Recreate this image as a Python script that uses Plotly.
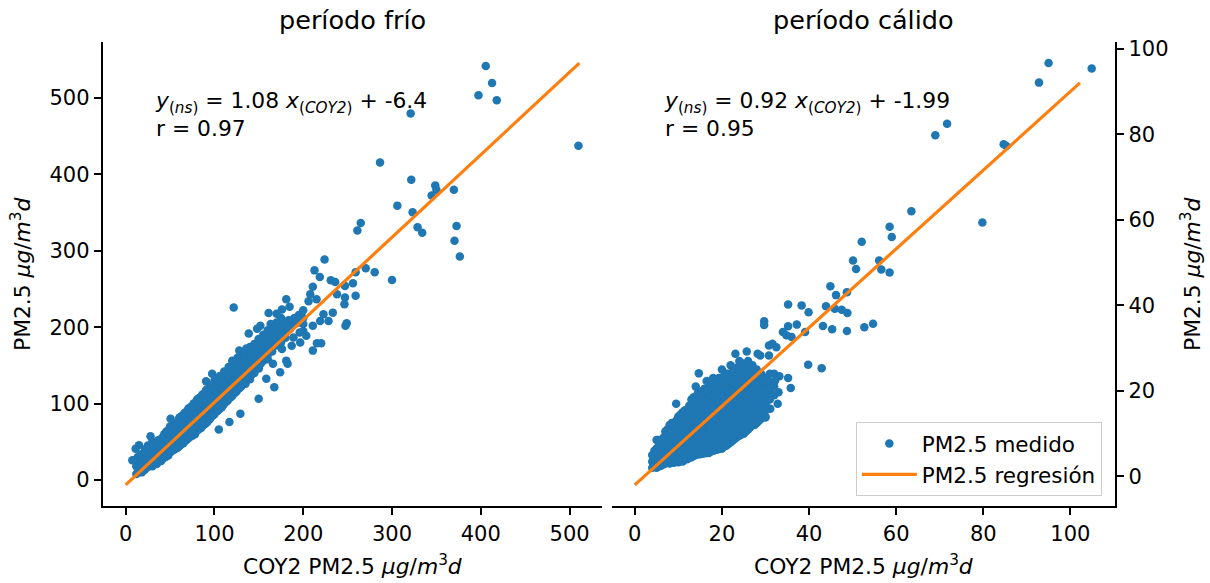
import plotly.graph_objects as go

FONT = "DejaVu Sans"
BLUE = "#1f77b4"
ORANGE = "#ff7f0e"

# ---------------- data: período frío ----------------
cold_outliers = [
    (405.6, 541.7), (412.7, 519.5), (397.4, 503.5), (418, 497), (321, 479.6),
    (510, 437.5), (286.5, 415.4), (321.7, 392.8), (348.7, 385.4), (350, 379.8),
    (344.6, 372.4), (369.7, 379.8), (306, 359), (323.2, 350.3), (328.8, 330.7),
    (334, 323.4), (372.7, 332.5), (370.4, 313), (376.4, 292.5), (264.8, 336.4),
    (261, 326.4), (224, 288.6), (270.4, 277), (280.5, 272), (259, 272),
    (300, 261.7), (212.7, 274.3), (218.7, 265.6), (231, 261.3), (236, 259),
    (210.8, 253), (247, 254), (256, 257.4), (238, 243), (207.9, 243),
    (259, 241), (247, 238.7), (215, 236.5), (206, 234), (246.4, 230),
    (180.9, 236.5), (184.6, 226.6), (121.7, 225.7), (176, 223), (161, 218.5),
    (170, 217.6), (233.3, 219), (222.8, 217), (228.5, 208), (249, 205),
    (247.6, 202), (219, 208), (210.8, 201.8), (189.9, 210.5), (183.5, 209),
    (163.3, 204), (172, 204), (151.7, 201.8), (148, 198), (138.6, 191.8),
    (185, 197.5), (200, 195), (196, 193), (168.5, 189.7), (174, 188.8),
    (189, 186.6), (149.8, 184.5), (155.4, 178), (146, 175.8), (163, 175.8),
    (187, 175.8), (196.6, 180), (203.4, 188.8), (215.4, 179), (220.2, 179),
    (210.8, 169.3), (176, 171.5), (128, 169.3), (133, 164), (165.9, 152),
    (180.9, 156.2), (182.4, 152), (174, 141), (158.4, 132.4), (167.4, 121.5),
    (149.8, 106.3), (129.2, 86.8), (116.9, 76), (104.9, 66), (97.4, 139),
    (90.6, 129.3), (28, 57.3), (50.6, 80.3), (9.4, 26), (15, 45.6),
    (11.2, 41), (7.5, 26),
]
cold_cluster = [
    (12, [18, 24, 8]), (15, [12, 20, 28, 15]), (18, [14, 22, 30, 10]),
    (20, [18, 26, 35, 12]), (22, [20, 14, 30, 40]), (25, [17, 24, 32, 22, 45]),
    (28, [20, 28, 36, 25]), (30, [24, 32, 40, 18, 50]), (33, [27, 35, 44, 22]),
    (35, [30, 38, 28, 48, 21]), (38, [32, 40, 26, 50, 36]), (40, [36, 44, 30, 54, 25]),
    (42, [38, 46, 34, 56, 28]), (45, [40, 48, 35, 58, 30, 62]), (48, [44, 52, 38, 60, 32]),
    (50, [46, 54, 40, 64, 36, 70]), (52, [48, 56, 42, 66, 38]), (55, [50, 60, 45, 70, 40, 56]),
    (58, [54, 62, 47, 72, 42]), (60, [56, 64, 50, 75, 44, 80]), (62, [58, 66, 52, 77, 46]),
    (65, [62, 70, 55, 80, 48, 68]), (68, [64, 72, 58, 84, 52]), (70, [66, 76, 60, 86, 54, 92]),
    (72, [70, 78, 62, 88, 56]), (75, [72, 80, 65, 92, 58, 85]), (78, [76, 84, 68, 96, 60]),
    (80, [78, 88, 70, 98, 64, 104]), (82, [80, 90, 72, 100, 66]), (85, [84, 92, 75, 104, 68, 96]),
    (88, [86, 96, 78, 108, 72]), (90, [90, 98, 82, 110, 74, 116]), (92, [92, 100, 84, 112, 76]),
    (95, [96, 104, 88, 116, 80, 108]), (98, [98, 108, 90, 120, 84]),
    (100, [102, 110, 94, 124, 86, 130]), (103, [104, 114, 96, 126, 90]),
    (105, [108, 116, 100, 130, 92]), (108, [110, 120, 102, 132, 95]),
    (110, [114, 122, 106, 136, 98, 128]), (113, [116, 126, 108, 140, 102]),
    (115, [120, 128, 112, 142, 104]), (118, [122, 132, 114, 146, 108]),
    (120, [126, 134, 118, 148, 110, 156]), (123, [128, 138, 120, 150, 114]),
    (125, [132, 140, 122, 154, 116]), (128, [134, 144, 126, 158, 120]),
    (130, [138, 146, 128, 160, 122]), (133, [140, 150, 132, 164]),
    (135, [144, 152, 134, 166, 126]), (138, [146, 156, 138, 170]),
    (140, [150, 158, 140, 174, 132]), (145, [154, 164, 146, 178, 140]),
    (150, [160, 170, 150, 184, 146]), (155, [166, 174, 156, 190]),
    (160, [172, 180, 164, 196, 158]), (165, [176, 186, 168, 200]),
    (170, [182, 192, 176, 206]), (175, [186, 196, 180, 212]),
    (180, [194, 204, 186]), (185, [198, 208]), (190, [204, 212]),
    (195, [206, 216]), (200, [212, 222, 204]),
    (13.5, [16, 22, 30]), (16.5, [18, 25, 33]), (19, [20, 28]), (23.5, [22, 30, 38]),
    (26.5, [26, 34, 41]), (31.5, [29, 37, 45]), (36.5, [34, 42, 52]), (41, [40, 50, 32]),
    (43.5, [42, 52, 60]), (46.5, [46, 55, 64]), (51, [50, 60, 68]), (53.5, [52, 62, 72]),
    (56.5, [54, 64, 74, 44]), (61, [60, 70, 82]), (63.5, [62, 72, 84]),
    (66.5, [66, 76, 88, 52]), (71, [70, 82, 94]), (73.5, [74, 86, 96, 60]),
    (76.5, [78, 90, 100, 62]), (81, [82, 94, 106]), (83.5, [86, 98, 108, 70]),
    (86.5, [88, 100, 112, 74]), (91, [94, 104, 118]), (93.5, [96, 108, 120, 80]),
    (96.5, [100, 112, 124, 84]), (101, [106, 118, 132]), (106, [110, 122, 136, 96]),
    (111, [118, 130, 142]), (116, [122, 134, 148, 108]), (121, [130, 142, 154]),
    (126, [136, 148, 160]), (131, [142, 154, 166, 126]), (136, [148, 160, 172]),
    (142, [152, 162, 170, 138]), (147, [158, 168, 176]), (152, [162, 172, 182, 152]),
    (157, [170, 178, 186]), (162, [176, 184, 192]), (167, [180, 190, 198]),
    (172, [186, 196, 204]), (177, [190, 200]),
]

# ---------------- data: período cálido ----------------
warm_outliers = [
    (95, 96.7), (104.9, 95.4), (92.8, 92.1), (71.7, 82.5), (69, 79.8),
    (84.7, 77.7), (85.3, 77.3), (63.5, 62), (79.8, 59.4), (58.5, 58.4),
    (59, 56), (52.1, 54.9), (50.1, 50.5), (56.1, 50.5), (50.8, 48.5),
    (56.6, 48.4), (58.5, 47.7), (44.9, 44.5), (46.2, 42.4), (48.7, 43.1),
    (35.2, 40.2), (38.3, 40), (43.9, 39.8), (39.9, 38.4), (45.9, 39.2),
    (47.5, 39), (48.8, 38.2), (29.7, 36.3), (29.7, 35.4), (35.2, 35.1),
    (37.2, 35.5), (43.2, 35.2), (45.3, 34.4), (52.7, 34.9), (54.7, 35.7),
    (48.7, 34), (34, 33.75), (39.1, 33.75), (34.8, 33), (36, 32.6),
    (39.8, 26.1), (42.9, 25.3), (30.8, 30.6), (31.6, 31), (32.5, 30.2),
    (28.8, 28.3), (30.8, 28.3), (25.7, 29.2), (23.1, 28.7), (28.2, 28.7),
    (35.2, 23), (35.8, 20.7), (33.2, 23.4), (33, 19.7), (32.2, 22.4),
    (32.8, 17), (30, 13.8), (31.1, 15.8), (29.8, 16.2), (14.7, 24.1),
    (9.5, 17), (10.9, 3.7), (5.3, 8.5), (16.5, 22.3), (19.3, 23),
    (11, 4.5), (12, 5), (13, 5.5), (14, 6), (15, 6.3), (16, 6.7), (17, 7),
    (18, 7.5), (19, 7.8), (20, 8), (21, 8.6), (22, 9.5), (23, 10), (24, 10.7),
    (25, 11.2), (26, 12), (27, 13), (28, 13.8), (14.5, 6.3), (15.5, 6.6),
    (16.5, 7), (17.5, 7.2), (18.5, 7.8), (19.5, 8.2), (20.5, 8.7), (21.5, 9),
    (22.5, 9.9), (23.5, 10.5), (24.5, 11), (25.5, 11.8), (26.5, 12.6),
    (27.5, 13.3), (29, 14.8), (30, 15.5),
]
warm_cluster = [
    (4, [2, 3.5, 5]), (5, [2, 3.5, 5, 6.5, 8.5]), (6, [2.5, 4, 5.5, 7, 8.5]),
    (7, [3, 4.5, 6, 7.5, 9, 10.5]), (8, [3, 4.5, 6, 7.5, 9, 10.5, 12]),
    (9, [3.2, 5, 6.5, 8, 9.5, 11, 12.5]), (10, [3.3, 5, 6.5, 8, 9.5, 11, 12.5, 14]),
    (11, [3.5, 5.5, 7, 8.5, 10, 11.5, 13, 15]), (12, [4, 6, 7.5, 9, 10.5, 12, 13.5, 15]),
    (13, [4.5, 6.5, 8, 9.5, 11, 12.5, 14, 16, 18]),
    (14, [5, 7, 8.5, 10, 11.5, 13, 14.5, 16, 18, 21]),
    (15, [5.2, 7.5, 9, 10.5, 12, 13.5, 15, 17, 19]),
    (16, [5.4, 8, 9.5, 11, 12.5, 14, 15.5, 17, 19, 20.5]),
    (17, [5.5, 8, 10, 11.5, 13, 14.5, 16, 18, 20, 22]),
    (18, [6, 9, 10.5, 12, 13.5, 15, 17, 18.5, 20, 23]),
    (19, [6.3, 9, 11, 12.5, 14, 16, 17.5, 19, 21]),
    (20, [6.5, 9.5, 11.5, 13, 14.5, 16, 18, 19.5, 21, 23, 25]),
    (21, [7.2, 10, 12, 13.5, 15, 17, 18.5, 20, 22, 24]),
    (22, [8, 11, 12.5, 14, 16, 17.5, 19, 21, 23, 26]),
    (23, [8.8, 11, 13, 15, 16.5, 18, 20, 22, 24]),
    (24, [9.5, 12, 13.5, 15.5, 17, 19, 21, 23, 25, 27]),
    (25, [10, 12.5, 14, 16, 18, 20, 22, 24, 26]),
    (26, [11, 13, 15, 17, 19, 21, 23, 25, 27]),
    (27, [12, 14, 16, 18, 20, 22, 24, 26]),
    (28, [12.5, 15, 17, 19, 21, 23, 25]),
    (29, [13.5, 16, 18, 20, 22, 24]),
    (30, [14, 17, 19, 21, 23]),
    (31, [18, 20, 22, 24]),
    (32, [19, 21, 24]),
    (4.5, [2.8, 4.3, 6]), (5.5, [2.3, 3.8, 5.3, 7, 8]), (6.5, [2.8, 4.3, 5.8, 7.3, 9]),
    (7.5, [3.2, 4.8, 6.3, 7.8, 9.5, 11]), (8.5, [3.3, 4.8, 6.3, 7.8, 9.3, 10.8, 12.5]),
    (9.5, [3.5, 5.5, 7, 8.5, 10, 11.5, 13]), (10.5, [3.6, 5.5, 7, 8.5, 10, 11.5, 13, 14.5]),
    (11.5, [4, 6, 7.5, 9, 10.5, 12, 13.5, 15.5]), (12.5, [4.3, 6.5, 8, 9.5, 11, 12.5, 14, 16.5]),
    (13.5, [4.8, 7, 8.5, 10, 11.5, 13, 14.5, 16.5, 18.5]),
    (14.5, [5.2, 7.5, 9, 10.5, 12, 13.5, 15, 17, 19.5]),
    (15.5, [5.3, 8, 9.5, 11, 12.5, 14, 15.5, 17.5, 20]),
    (16.5, [5.5, 8.5, 10, 11.5, 13, 14.5, 16, 18, 20]),
    (17.5, [5.8, 8.5, 10.5, 12, 13.5, 15, 17, 19, 21.5]),
    (18.5, [6.2, 9.5, 11, 12.5, 14, 16, 17.5, 19.5, 22]),
    (19.5, [6.5, 10, 11.5, 13, 15, 17, 18.5, 20.5, 22.5]),
    (20.5, [7, 10.5, 12, 13.5, 15.5, 17.5, 19, 21, 23.5]),
    (21.5, [7.6, 10.5, 12.5, 14, 16, 18, 19.5, 21.5, 24]),
    (22.5, [8.4, 11.5, 13, 15, 17, 18.5, 20, 22, 24.5]),
    (23.5, [9.2, 12, 14, 16, 17.5, 19.5, 21.5, 23.5, 25.5]),
    (24.5, [9.8, 12.5, 14.5, 16.5, 18.5, 20.5, 22.5, 24.5, 26.5]),
    (25.5, [10.5, 13, 15, 17, 19, 21, 23, 25]),
    (26.5, [11.5, 14, 16, 18, 20, 22, 24, 26]),
    (27.5, [12, 14.5, 16.5, 18.5, 20.5, 22.5, 24.5]),
    (28.5, [13, 15.5, 17.5, 19.5, 21.5, 23.5]),
    (29.5, [14, 16.5, 18.5, 20.5, 22.5]),
    (30.5, [16, 18.5, 20.5, 22.5]),
]

# regression coefficients and line extents
cold_slope, cold_intercept, cold_line_x = 1.08, -6.4, [0, 511]
warm_slope, warm_intercept, warm_line_x = 0.92, -1.99, [0, 102.2]

titles = ["período frío", "período cálido"]
cold_text = "<i>y</i><sub>(<i>ns</i>)</sub> = 1.08 <i>x</i><sub>(<i>COY2</i>)</sub> + -6.4<br>r = 0.97"
warm_text = "<i>y</i><sub>(<i>ns</i>)</sub> = 0.92 <i>x</i><sub>(<i>COY2</i>)</sub> + -1.99<br>r = 0.95"
xlabel = "COY2 PM2.5 <i>μg</i>/<i>m</i><sup>3</sup><i>d</i>"
ylabel = "PM2.5 <i>μg</i>/<i>m</i><sup>3</sup><i>d</i>"


def flatten(outliers, cluster):
    xs, ys = [], []
    for x, col in cluster:
        for y in col:
            xs.append(x)
            ys.append(y)
    for x, y in outliers:
        xs.append(x)
        ys.append(y)
    return xs, ys


cold_x, cold_y = flatten(cold_outliers, cold_cluster)
warm_x, warm_y = flatten(warm_outliers, warm_cluster)
cold_line_y = [cold_slope * v + cold_intercept for v in cold_line_x]
warm_line_y = [warm_slope * v + warm_intercept for v in warm_line_x]

fig = go.Figure()
mk = dict(color=BLUE, size=8.5, line=dict(width=0))
fig.add_trace(go.Scatter(x=cold_x, y=cold_y, mode="markers", marker=mk,
                         showlegend=False, xaxis="x", yaxis="y"))
fig.add_trace(go.Scatter(x=cold_line_x, y=cold_line_y, mode="lines",
                         line=dict(color=ORANGE, width=3.2), showlegend=False,
                         xaxis="x", yaxis="y"))
fig.add_trace(go.Scatter(x=warm_x, y=warm_y, mode="markers", marker=mk,
                         name="PM2.5 medido", xaxis="x2", yaxis="y2"))
fig.add_trace(go.Scatter(x=warm_line_x, y=warm_line_y, mode="lines",
                         line=dict(color=ORANGE, width=3.2), name="PM2.5 regresión",
                         xaxis="x2", yaxis="y2"))

ax = dict(showline=True, linecolor="black", linewidth=1.6, ticks="outside",
          ticklen=7.5, tickwidth=1.6, tickcolor="black", showgrid=False,
          zeroline=False, tickfont=dict(family=FONT, size=21, color="black"))

fig.update_layout(
    width=1210, height=583, autosize=False,
    margin=dict(l=103, r=95, t=42, b=77),
    paper_bgcolor="white", plot_bgcolor="white",
    font=dict(family=FONT, size=22, color="black"),
    xaxis=dict(domain=[0, 0.4931], range=[-25.55, 536.55], tickvals=[0, 100, 200, 300, 400, 500], anchor="y", **ax),
    yaxis=dict(domain=[0, 1], range=[-34.0, 573.1], tickvals=[0, 100, 200, 300, 400, 500], anchor="x", **ax),
    xaxis2=dict(domain=[0.5029, 1], range=[-5.25, 110.25], tickvals=[0, 20, 40, 60, 80, 100], anchor="y2", **ax),
    yaxis2=dict(domain=[0, 1], range=[-6.92, 101.6], tickvals=[0, 20, 40, 60, 80, 100], anchor="x2", side="right", **ax),
    legend=dict(x=0.987, y=0.0215, xanchor="right", yanchor="bottom", itemwidth=55,
                bgcolor="rgba(255,255,255,0.8)", bordercolor="#cccccc", borderwidth=1,
                font=dict(family=FONT, size=21.5, color="black")),
)

ann = []
for i, (t, txt) in enumerate(zip(titles, [cold_text, warm_text])):
    xr = "x domain" if i == 0 else "x2 domain"
    yr = "y domain" if i == 0 else "y2 domain"
    ann.append(dict(text=t, xref=xr, yref=yr, x=0.5, y=1, xanchor="center",
                    yanchor="bottom", yshift=5, showarrow=False,
                    font=dict(family=FONT, size=25.5, color="black")))
    ann.append(dict(text=txt, xref=xr, yref=yr, x=0.1, y=0.9, xanchor="left",
                    yanchor="top", align="left", showarrow=False, yshift=2,
                    font=dict(family=FONT, size=21.8, color="black")))
    ann.append(dict(text=xlabel, xref=xr, yref=yr, x=0.5, y=0, xanchor="center",
                    yanchor="middle", yshift=-59, showarrow=False,
                    font=dict(family=FONT, size=21.8, color="black")))
ann.append(dict(text=ylabel, xref="x domain", yref="y domain", x=0, y=0.5,
                xanchor="center", yanchor="middle", xshift=-82, textangle=-90,
                showarrow=False, font=dict(family=FONT, size=21.8, color="black")))
ann.append(dict(text=ylabel, xref="x2 domain", yref="y2 domain", x=1, y=0.5,
                xanchor="center", yanchor="middle", xshift=76, textangle=-90,
                showarrow=False, font=dict(family=FONT, size=21.8, color="black")))
fig.update_layout(annotations=ann)

fig.write_html("out.html")
